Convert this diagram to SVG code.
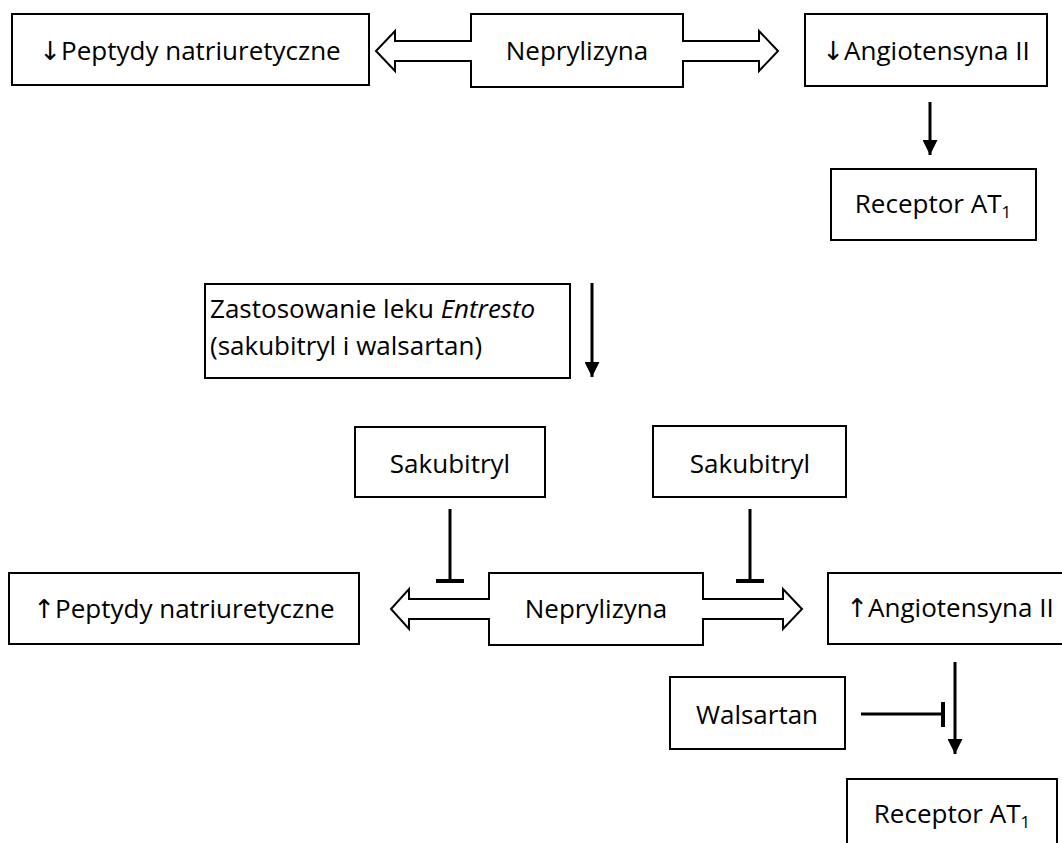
<svg xmlns="http://www.w3.org/2000/svg" width="1062" height="843" viewBox="0 0 1062 843">
<defs>
<style>
.box{fill:#fff;stroke:#000;stroke-width:2}
.callout{fill:#fff;stroke:#000;stroke-width:2;stroke-linejoin:miter}
.t{font-family:"Open Sans","Noto Sans","DejaVu Sans",sans-serif;font-size:26px;fill:#000}
.c{text-anchor:middle}
.ar{font-family:"DejaVu Sans",sans-serif;fill:#000}
.ln{stroke:#000;stroke-width:3;fill:none}
.bar{stroke:#000;stroke-width:4;fill:none}
</style>
<marker id="ah" viewBox="0 0 10 10" refX="10" refY="5" markerWidth="5" markerHeight="5" markerUnits="strokeWidth" orient="auto">
<path d="M0,0 L10,5 L0,10 Z" fill="#000"/>
</marker>
</defs>
<rect width="1062" height="843" fill="#fff"/>

<g id="n-peptydy-top">
<rect class="box" x="12" y="14" width="357" height="71"/>
<text class="t c" x="190" y="60"><tspan class="ar">↓</tspan>Peptydy natriuretyczne</text>
</g>
<g id="n-neprylizyna-top">
<path class="callout" d="M471,14 H683 V41 H759 V31 L778,51 L759,71 V61 H683 V87 H471 V61 H395 V71 L376,51 L395,31 V41 H471 Z"/>
<text class="t c" x="577" y="60">Neprylizyna</text>
</g>
<g id="n-angiotensyna-top">
<rect class="box" x="805" y="14" width="242" height="72"/>
<text class="t c" x="926" y="60"><tspan class="ar">↓</tspan>Angiotensyna II</text>
</g>
<g id="n-receptor-top">
<rect class="box" x="831" y="169" width="205" height="71"/>
<text class="t c" x="933" y="213">Receptor AT<tspan font-size="17" dy="5">1</tspan></text>
</g>
<g id="n-entresto">
<rect class="box" x="205" y="284" width="365" height="94"/>
<text class="t" x="210" y="318">Zastosowanie leku <tspan font-style="italic">Entresto</tspan></text>
<text class="t" x="210" y="355">(sakubitryl i walsartan)</text>
</g>
<g id="n-sakubitryl-1">
<rect class="box" x="355" y="427" width="190" height="70"/>
<text class="t c" x="450" y="473">Sakubitryl</text>
</g>
<g id="n-sakubitryl-2">
<rect class="box" x="653" y="426" width="193" height="71"/>
<text class="t c" x="750" y="473">Sakubitryl</text>
</g>
<g id="n-peptydy-bottom">
<rect class="box" x="9" y="573" width="350" height="71"/>
<text class="t c" x="184" y="618"><tspan class="ar">↑</tspan>Peptydy natriuretyczne</text>
</g>
<g id="n-neprylizyna-bottom">
<path class="callout" d="M489,573 H703 V599 H783 V589 L802,609 L783,629 V619 H703 V645 H489 V619 H409 V629 L391,609 L409,589 V599 H489 Z"/>
<text class="t c" x="596" y="618">Neprylizyna</text>
</g>
<g id="n-angiotensyna-bottom">
<rect class="box" x="828" y="573" width="245" height="71"/>
<text class="t c" x="950" y="617"><tspan class="ar">↑</tspan>Angiotensyna II</text>
</g>
<g id="n-walsartan">
<rect class="box" x="670" y="677" width="175" height="72"/>
<text class="t c" x="757" y="724">Walsartan</text>
</g>
<g id="n-receptor-bottom">
<rect class="box" x="847" y="779" width="210" height="75"/>
<text class="t c" x="952" y="823">Receptor AT<tspan font-size="17" dy="5">1</tspan></text>
</g>

<g id="connectors">
<line class="ln" x1="930" y1="102" x2="930" y2="155" marker-end="url(#ah)"/>
<line class="ln" x1="592" y1="283" x2="592" y2="377" marker-end="url(#ah)"/>
<line class="ln" x1="955" y1="662" x2="955" y2="754" marker-end="url(#ah)"/>
<line class="ln" x1="450" y1="509" x2="450" y2="581"/>
<line class="bar" x1="436" y1="581" x2="464" y2="581"/>
<line class="ln" x1="750" y1="509" x2="750" y2="581"/>
<line class="bar" x1="736" y1="581" x2="764" y2="581"/>
<line class="ln" x1="861" y1="714" x2="943" y2="714"/>
<line class="bar" x1="943" y1="702" x2="943" y2="727"/>
</g>
</svg>
